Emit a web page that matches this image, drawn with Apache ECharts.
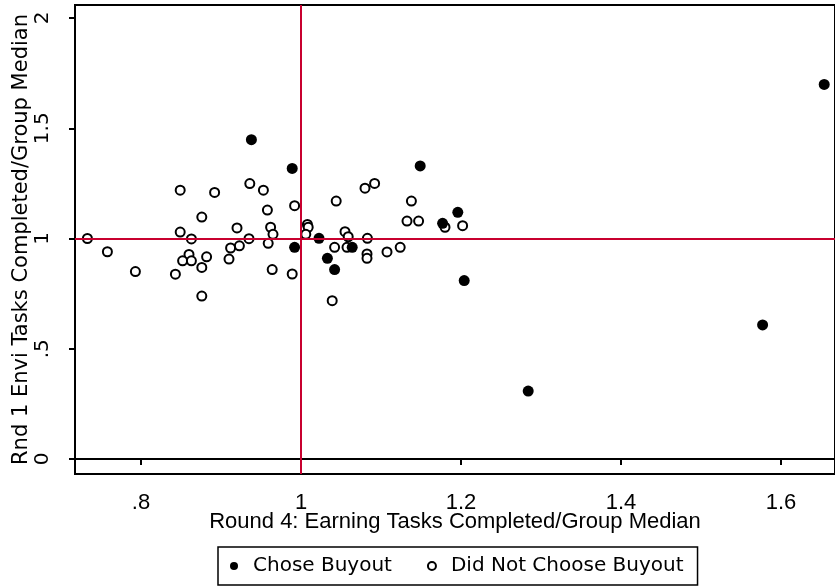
<!DOCTYPE html>
<html><head><meta charset="utf-8">
<script src="https://cdn.jsdelivr.net/npm/echarts@6/dist/echarts.min.js"></script>
<style>html,body{margin:0;padding:0;background:#fff}#c{width:835px;height:587px}</style>
</head><body><div id="c"></div>
<script>
const xTicks = [0.8, 1.0, 1.2, 1.4, 1.6];
const yTicks = [0, 0.5, 1.0, 1.5, 2.0];
const choseBuyoutX = [0.938, 0.989, 1.149, 1.177, 1.196, 1.0225, 0.992, 1.064, 1.033, 1.042, 1.204, 1.654, 1.577, 1.284];
const choseBuyoutY = [1.448, 1.318, 1.329, 1.069, 1.119, 1.001, 0.960, 0.960, 0.910, 0.859, 0.809, 1.699, 0.608, 0.308];
const notChoseX = [0.733, 0.758, 0.793, 0.849, 0.892, 0.936, 0.953, 0.958, 0.876, 0.849, 0.863, 0.920, 0.935, 0.962, 0.965, 0.959, 0.912, 0.923, 0.860, 0.852, 0.863, 0.882, 0.910, 0.876, 0.843, 0.876, 0.964, 0.989, 0.992, 1.044, 1.080, 1.092, 1.138, 1.1325, 1.147, 1.180, 1.202, 1.008, 1.009, 1.006, 1.055, 1.059, 1.083, 1.042, 1.0575, 1.0825, 1.0825, 1.1075, 1.124, 1.039];
const notChoseY = [1.00, 0.94, 0.85, 1.219, 1.209, 1.249, 1.219, 1.129, 1.097, 1.029, 0.998, 1.048, 0.999, 1.051, 1.019, 0.978, 0.957, 0.967, 0.928, 0.899, 0.899, 0.917, 0.907, 0.869, 0.838, 0.739, 0.859, 0.839, 1.149, 1.170, 1.228, 1.250, 1.170, 1.079, 1.079, 1.051, 1.058, 1.064, 1.051, 1.019, 1.031, 1.008, 1.001, 0.960, 0.960, 0.930, 0.910, 0.939, 0.960, 0.718];
const refX = 1;
const refY = 1;

const zip = (a, b) => a.map((v, i) => [v, b[i]]);
const fmt = v => { let s = String(Math.round(v * 10) / 10); return s.startsWith('0.') ? s.slice(1) : s; };
const FONT = 'DejaVu Sans';
const XFONT = 'Liberation Sans';
const RED = '#c8002f';

const chart = echarts.init(document.getElementById('c'), null, {renderer: 'canvas'});
chart.setOption({
  animation: false,
  backgroundColor: '#fff',
  textStyle: {fontFamily: FONT, color: '#000'},
  grid: {left: 75, right: -5, top: 5, bottom: 113, show: true, borderColor: '#000', borderWidth: 2, backgroundColor: 'transparent'},
  xAxis: {
    type: 'value', min: 0.7175, max: 1.6675,
    name: 'Round 4: Earning Tasks Completed/Group Median',
    nameLocation: 'middle', nameGap: 37, nameMoveOverlap: false,
    nameTextStyle: {fontFamily: XFONT, fontSize: 22, color: '#000', verticalAlign: 'top'},
    splitLine: {show: false},
    axisLine: {show: true, lineStyle: {color: '#000', width: 2}},
    axisTick: {show: true, length: 6, lineStyle: {color: '#000', width: 2}, customValues: xTicks},
    axisLabel: {show: true, customValues: xTicks, formatter: fmt, fontFamily: XFONT, fontSize: 22, color: '#000', margin: 18}
  },
  yAxis: {
    type: 'value', min: -0.068, max: 2.059,
    name: 'Rnd 1 Envi Tasks Completed/Group Median',
    nameLocation: 'middle', nameGap: 43, nameRotate: 90, nameMoveOverlap: false,
    nameTextStyle: {fontFamily: FONT, fontSize: 21, color: '#000'},
    splitLine: {show: false},
    axisLine: {show: true, lineStyle: {color: '#000', width: 2}},
    axisTick: {show: true, length: 6, lineStyle: {color: '#000', width: 2}, customValues: yTicks},
    axisLabel: {show: true, customValues: yTicks, formatter: fmt, rotate: 90, fontFamily: FONT, fontSize: 20, color: '#000', margin: 22}
  },
  legend: {
    top: 547, left: 218,
    borderColor: '#000', borderWidth: 1.5, padding: [9, 14, 9, 12],
    itemGap: 35, itemWidth: 28, itemHeight: 8,
    textStyle: {fontFamily: FONT, fontSize: 20, color: '#000'},
    data: [
      {name: 'Chose Buyout', icon: 'circle', itemStyle: {color: '#000', borderWidth: 0}},
      {name: 'Did Not Choose Buyout', icon: 'emptyCircle', itemStyle: {color: '#000', borderColor: '#000', borderWidth: 1.5}}
    ]
  },
  series: [
    {
      name: 'ref', type: 'scatter', data: [], z: 1, silent: true,
      markLine: {
        silent: true, symbol: 'none', animation: false,
        lineStyle: {color: RED, width: 2, type: 'solid'},
        label: {show: false},
        data: [{xAxis: refX}, {yAxis: refY}]
      }
    },
    {
      name: 'Did Not Choose Buyout', type: 'scatter', z: 3,
      symbol: 'circle', symbolSize: 9,
      itemStyle: {color: '#fff', borderColor: '#000', borderWidth: 2, opacity: 1},
      data: zip(notChoseX, notChoseY)
    },
    {
      name: 'Chose Buyout', type: 'scatter', z: 4,
      symbol: 'circle', symbolSize: 11,
      itemStyle: {color: '#000', opacity: 1},
      data: zip(choseBuyoutX, choseBuyoutY)
    }
  ]
});
</script></body></html>
